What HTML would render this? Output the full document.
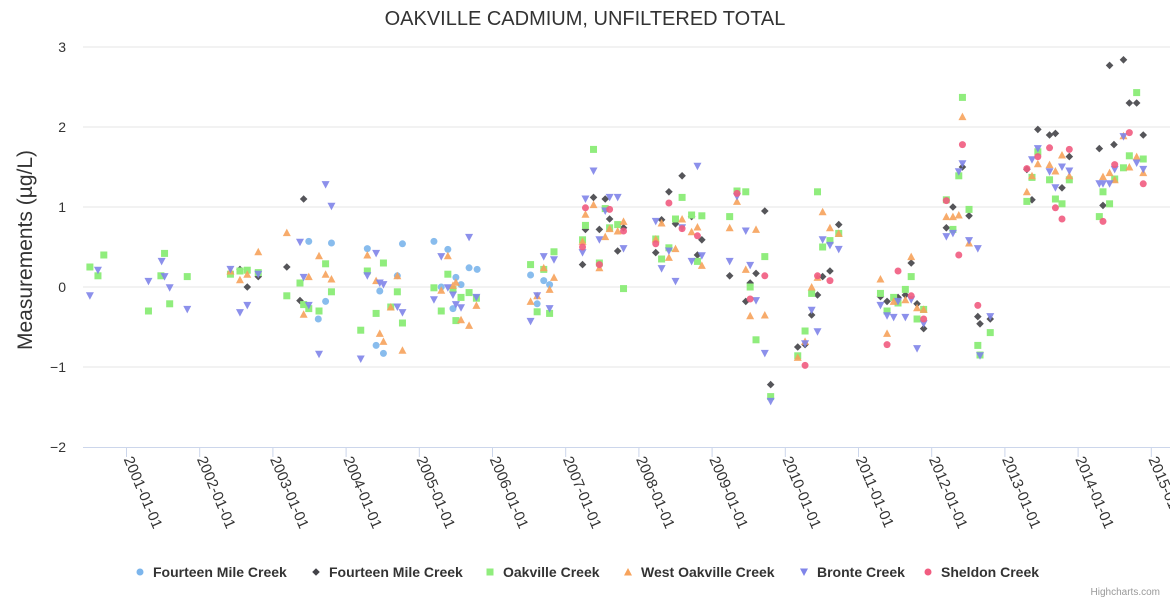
<!DOCTYPE html>
<html><head><meta charset="utf-8"><style>
body{margin:0;background:#fff;font-family:"Liberation Sans",sans-serif}
svg text{font-family:"Liberation Sans",sans-serif}
</style></head><body>
<svg id="chart" width="1170" height="600">
<text x="585" y="25" text-anchor="middle" font-size="20" fill="#333">OAKVILLE CADMIUM, UNFILTERED TOTAL</text>
<text transform="translate(32,250) rotate(-90)" text-anchor="middle" font-size="21" fill="#333">Measurements (µg/L)</text>
<g id="grid"></g><g id="xaxis"></g><g id="marks"></g><g id="legend"></g>
<text x="1160" y="595" text-anchor="end" font-size="10" fill="#999">Highcharts.com</text>
</svg>
<script>
const yTicks=[-2,-1,0,1,2,3];
const xTickYears=[2001,2002,2003,2004,2005,2006,2007,2008,2009,2010,2011,2012,2013,2014,2015];
const seriesNames=["Fourteen Mile Creek","Fourteen Mile Creek","Oakville Creek","West Oakville Creek","Bronte Creek","Sheldon Creek"];
const s1Years=[2003.49,2003.80,2003.72,2003.62,2004.29,2004.77,2004.70,2004.46,2004.41,2004.51,2005.20,2005.39,2005.68,2005.79,2005.50,2005.57,2005.30,2005.46,2006.52,2006.70,2006.78,2006.61];
const s1Vals=[0.57,0.55,-0.18,-0.40,0.48,0.54,0.14,-0.05,-0.73,-0.83,0.57,0.47,0.24,0.22,0.12,0.03,0.00,-0.27,0.15,0.08,0.03,-0.21];
const s2Years=[2002.55,2002.80,2002.65,2003.42,2003.19,2003.37,2007.23,2007.27,2007.38,2007.54,2007.60,2007.46,2007.71,2007.79,2008.23,2008.31,2008.41,2008.50,2008.59,2008.72,2008.80,2008.86,2009.24,2009.52,2009.46,2009.60,2009.72,2009.80,2010.17,2010.27,2010.44,2010.36,2010.51,2010.61,2010.73,2011.30,2011.39,2011.54,2011.64,2011.80,2011.89,2011.72,2012.20,2012.29,2012.51,2012.42,2012.63,2012.66,2012.80,2013.37,2013.45,2013.61,2013.69,2013.78,2013.88,2013.30,2014.29,2014.34,2014.49,2014.43,2014.62,2014.70,2014.80,2014.89];
const s2Vals=[0.22,0.13,0.00,1.10,0.25,-0.17,0.28,0.72,1.12,1.10,0.85,0.72,0.45,0.74,0.43,0.84,1.19,0.79,1.39,0.88,0.40,0.59,0.14,0.05,-0.18,0.17,0.95,-1.22,-0.75,-0.72,-0.10,-0.35,0.13,0.20,0.78,-0.12,-0.18,-0.13,-0.10,-0.21,-0.52,0.30,0.74,1.00,0.89,1.50,-0.37,-0.46,-0.40,1.09,1.97,1.90,1.92,1.24,1.63,1.47,1.73,1.02,1.78,2.77,2.84,2.30,2.30,1.90];
const s3Years=[2000.50,2000.61,2000.69,2001.30,2001.47,2001.52,2001.59,2001.83,2002.42,2002.55,2002.65,2002.80,2003.19,2003.37,2003.42,2003.49,2003.63,2003.72,2003.80,2004.20,2004.29,2004.51,2004.41,2004.70,2004.77,2004.61,2005.20,2005.39,2005.30,2005.46,2005.57,2005.68,2005.78,2005.50,2006.52,2006.70,2006.84,2006.61,2006.78,2007.23,2007.27,2007.38,2007.54,2007.60,2007.71,2007.46,2007.79,2008.23,2008.31,2008.41,2008.50,2008.59,2008.72,2008.86,2008.80,2009.24,2009.34,2009.46,2009.52,2009.60,2009.72,2009.80,2010.17,2010.27,2010.36,2010.44,2010.51,2010.61,2010.73,2011.30,2011.39,2011.48,2011.54,2011.64,2011.72,2011.80,2011.89,2012.20,2012.29,2012.37,2012.42,2012.51,2012.63,2012.66,2012.80,2013.30,2013.37,2013.45,2013.61,2013.69,2013.78,2013.88,2014.29,2014.34,2014.43,2014.50,2014.62,2014.70,2014.80,2014.89];
const s3Vals=[0.25,0.14,0.40,-0.30,0.14,0.42,-0.21,0.13,0.16,0.20,0.21,0.18,-0.11,0.05,-0.22,-0.27,-0.30,0.29,-0.06,-0.54,0.20,0.30,-0.33,-0.06,-0.45,-0.25,-0.01,0.16,-0.30,-0.03,-0.13,-0.07,-0.14,-0.42,0.28,0.22,0.44,-0.31,-0.33,0.59,0.77,1.72,0.98,0.74,0.78,0.30,-0.02,0.60,0.35,0.49,0.85,1.12,0.90,0.89,0.32,0.88,1.20,1.19,0.00,-0.66,0.38,-1.37,-0.86,-0.55,-0.08,1.19,0.50,0.58,0.67,-0.08,-0.30,-0.13,-0.20,-0.03,0.13,-0.40,-0.28,1.09,0.72,1.39,2.37,0.97,-0.73,-0.85,-0.57,1.07,1.37,1.69,1.34,1.10,1.04,1.34,0.88,1.19,1.04,1.35,1.49,1.64,2.43,1.60];
const s4Years=[2003.19,2002.80,2002.55,2002.65,2002.42,2003.63,2003.49,2003.72,2003.80,2003.42,2004.29,2004.41,2004.70,2004.61,2004.46,2004.51,2004.77,2005.39,2005.30,2005.50,2005.46,2005.78,2005.57,2005.68,2006.52,2006.61,2006.70,2006.84,2006.78,2007.23,2007.27,2007.38,2007.46,2007.54,2007.60,2007.71,2007.79,2008.23,2008.31,2008.41,2008.50,2008.59,2008.72,2008.80,2008.86,2009.24,2009.34,2009.46,2009.60,2009.52,2009.72,2010.17,2010.27,2010.36,2010.44,2010.51,2010.61,2010.73,2011.30,2011.39,2011.48,2011.64,2011.72,2011.80,2011.89,2012.20,2012.29,2012.37,2012.42,2012.51,2013.30,2013.37,2013.45,2013.61,2013.69,2013.78,2013.88,2014.34,2014.43,2014.50,2014.62,2014.70,2014.80,2014.89];
const s4Vals=[0.68,0.44,0.09,0.16,0.20,0.39,0.13,0.16,0.10,-0.34,0.40,0.08,0.14,-0.25,-0.58,-0.68,-0.79,0.39,-0.04,0.06,0.02,-0.23,-0.41,-0.48,-0.18,-0.11,0.24,0.12,-0.03,0.57,0.91,1.03,0.24,0.63,0.73,0.70,0.82,0.60,0.80,0.37,0.48,0.85,0.69,0.75,0.27,0.74,1.07,0.22,0.72,-0.36,-0.35,-0.88,-0.68,0.00,0.12,0.94,0.74,0.67,0.10,-0.58,-0.18,-0.16,0.38,-0.26,-0.28,0.88,0.88,0.90,2.13,0.55,1.19,1.39,1.54,1.53,1.45,1.65,1.39,1.38,1.43,1.34,1.89,1.50,1.63,1.43];
const s5Years=[2000.50,2000.61,2001.30,2001.48,2001.52,2001.59,2001.83,2002.42,2002.55,2002.65,2002.80,2003.37,2003.42,2003.49,2003.72,2003.80,2003.63,2004.20,2004.29,2004.41,2004.46,2004.51,2004.70,2004.77,2005.20,2005.30,2005.39,2005.46,2005.50,2005.57,2005.68,2005.78,2006.52,2006.61,2006.70,2006.84,2006.78,2007.23,2007.27,2007.38,2007.46,2007.54,2007.60,2007.71,2007.79,2008.23,2008.31,2008.41,2008.50,2008.59,2008.72,2008.80,2008.86,2009.24,2009.34,2009.46,2009.52,2009.60,2009.72,2009.80,2010.27,2010.44,2010.36,2010.51,2010.61,2010.73,2011.30,2011.39,2011.48,2011.54,2011.64,2011.72,2011.80,2011.89,2012.20,2012.29,2012.37,2012.42,2012.51,2012.63,2012.66,2012.80,2013.37,2013.45,2013.61,2013.69,2013.78,2013.88,2014.29,2014.34,2014.43,2014.50,2014.62,2014.80,2014.89];
const s5Vals=[-0.11,0.21,0.07,0.32,0.13,-0.01,-0.28,0.22,-0.32,-0.23,0.16,0.56,0.12,-0.23,1.28,1.01,-0.84,-0.90,0.14,0.42,0.05,0.03,-0.25,-0.32,-0.16,0.38,-0.01,-0.10,-0.22,-0.26,0.62,-0.13,-0.43,-0.11,0.38,0.34,-0.27,0.43,1.10,1.45,0.59,0.95,1.12,1.12,0.48,0.82,0.23,0.45,0.07,0.74,0.32,1.51,0.39,0.32,1.13,0.70,0.27,-0.17,-0.83,-1.43,-0.71,-0.56,-0.29,0.59,0.52,0.47,-0.23,-0.36,-0.38,-0.18,-0.38,-0.16,-0.77,-0.46,0.63,0.67,1.44,1.54,0.58,0.48,-0.86,-0.37,1.59,1.73,1.44,1.24,1.50,1.45,1.29,1.29,1.29,1.47,1.88,1.55,1.47];
const s6Years=[2007.27,2007.23,2007.46,2007.60,2007.79,2008.23,2008.41,2008.59,2008.80,2009.34,2009.52,2009.72,2010.27,2010.44,2010.61,2011.39,2011.54,2011.72,2011.89,2012.20,2012.37,2012.42,2012.63,2013.30,2013.45,2013.61,2013.69,2013.78,2013.88,2014.34,2014.50,2014.70,2014.89];
const s6Vals=[0.99,0.50,0.28,0.97,0.70,0.54,1.05,0.73,0.64,1.17,-0.15,0.14,-0.98,0.14,0.08,-0.72,0.20,-0.11,-0.40,1.08,0.40,1.78,-0.23,1.48,1.63,1.74,0.99,0.85,1.72,0.82,1.53,1.93,1.29];

const NS="http://www.w3.org/2000/svg";
const xS=yr=>126.5+(yr-2001)*73.2;
const yS=v=>287-v*80;
function mk(tag,attrs,parent){const e=document.createElementNS(NS,tag);for(const k in attrs)e.setAttribute(k,attrs[k]);parent.appendChild(e);return e;}
const grid=document.getElementById('grid'),xa=document.getElementById('xaxis'),marks=document.getElementById('marks'),leg=document.getElementById('legend');
yTicks.forEach(t=>{
  if(t>-2){const l=mk('line',{x1:83,x2:1170,y1:yS(t),y2:yS(t),stroke:'#e6e6e6'},grid);
  
  }
  const tx=mk('text',{x:66,y:yS(t)+5,'text-anchor':'end','font-size':14,fill:'#333'},grid);
  tx.textContent=t<0?'−'+(-t):String(t);
  
  
});
const axl=mk('line',{x1:83,x2:1170,y1:447.5,y2:447.5,stroke:'#ccd6eb'},xa);


xTickYears.forEach(yr=>{
  const x=xS(yr);
  const tk=mk('line',{x1:x,x2:x,y1:447,y2:457,stroke:'#ccd6eb'},xa);
  
  
  const t=mk('text',{transform:`translate(${x-3},459) rotate(67)`,'font-size':15,fill:'#333'},xa);
  t.textContent=yr+'-01-01';
  
  
});
const colors=['#7cb5ec','#434348','#90ed7d','#f7a35c','#8085e9','#f15c80'];
function sym(i,x,y,g){
  if(i===0||i===5)return mk('circle',{cx:x,cy:y,r:3.5,fill:colors[i]},g);
  if(i===1)return mk('path',{d:`M${x} ${y-3.8}L${x+3.8} ${y}L${x} ${y+3.8}L${x-3.8} ${y}Z`,fill:colors[i]},g);
  if(i===2)return mk('rect',{x:x-3.5,y:y-3.5,width:7,height:7,fill:colors[i]},g);
  if(i===3)return mk('path',{d:`M${x} ${y-4}L${x+4} ${y+3.5}L${x-4} ${y+3.5}Z`,fill:colors[i]},g);
  return mk('path',{d:`M${x-4} ${y-3.5}L${x+4} ${y-3.5}L${x} ${y+4}Z`,fill:colors[i]},g);
}
const allYears=[s1Years,s2Years,s3Years,s4Years,s5Years,s6Years];
const allVals=[s1Vals,s2Vals,s3Vals,s4Vals,s5Vals,s6Vals];
const opa=[0.9,0.9,1,0.9,0.9,0.9];
allYears.forEach((ys,i)=>{
  const g=mk('g',{opacity:opa[i]},marks);
  
  
  ys.forEach((yr,j)=>{
    const p=sym(i,xS(yr),yS(allVals[i][j]),g);
    
    
  });
});
const legX=[140,316,490,628,804,928];
seriesNames.forEach((n,i)=>{
  const g=mk('g',{},leg);
  
  
  sym(i,legX[i],572,g);
  const t=mk('text',{x:legX[i]+13,y:577,'font-size':14,'font-weight':'bold',fill:'#333'},g);
  t.textContent=n;
});
</script>
</body></html>
